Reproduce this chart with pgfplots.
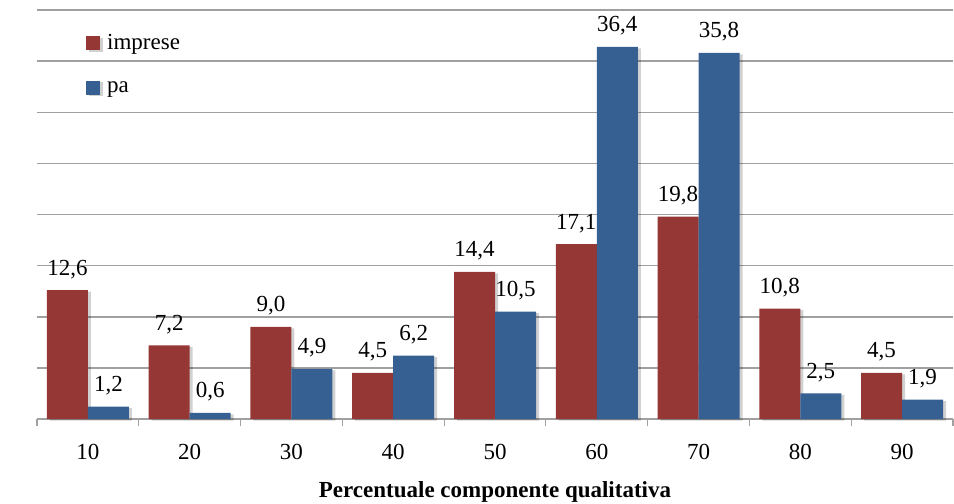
\documentclass[border=0pt]{standalone}
\usepackage{fontspec}
\setmainfont{Liberation Serif}
\usepackage{pgfplots}
\pgfplotsset{compat=1.18}
\definecolor{cred}{HTML}{953735}
\definecolor{cblue}{HTML}{366092}
\definecolor{cgrid}{HTML}{A0A0A0}
\pgfplotstableread{
x imprese pa
0 12.6 1.2
1 7.2 0.6
2 9.0 4.9
3 4.5 6.2
4 14.4 10.5
5 17.1 36.4
6 19.8 35.8
7 10.8 2.5
8 4.5 1.9
}\datatable
\begin{document}
\begin{tikzpicture}
\begin{axis}[
  scale only axis, width=916bp, height=409bp,
  xmin=-0.5, xmax=8.5, ymin=0, ymax=40,
  enlargelimits=false,
  ybar=0pt, bar width=41bp,
  axis x line*=bottom, axis y line*=left,
  y axis line style={draw=none},
  x axis line style={cgrid, line width=1.5bp},
  ytick={5,10,...,40}, yticklabels={}, ytick style={draw=none},
  ymajorgrids, grid style={cgrid, line width=1.5bp},
  xtick={0,...,8}, xticklabels={10,20,30,40,50,60,70,80,90},
  major x tick style={draw=none},
  minor xtick={-0.5,0.5,...,8.5},
  minor tick length=7bp, tick align=outside,
  minor x tick style={cgrid, line width=1.2bp},
  font=\rmfamily\fontsize{23bp}{27bp}\selectfont,
  /pgf/number format/assume math mode=true,
  xticklabel style={font=\rmfamily\fontsize{23bp}{27bp}\selectfont, yshift=-17bp},
  xlabel={\textbf{Percentuale componente qualitativa}},
  xlabel style={font=\rmfamily\fontsize{23bp}{27bp}\selectfont, yshift=-15bp},
  nodes near coords={\pgfmathprintnumber[fixed,fixed zerofill,precision=1,use comma,assume math mode=true]{\pgfplotspointmeta}},
  nodes near coords style={font=\rmfamily\fontsize{23bp}{27bp}\selectfont, anchor=south, yshift=8bp, text=black},
  point meta=explicit,
  legend image code/.code={\fill[#1] (0bp,-7bp) rectangle (14bp,7bp);},
  legend style={at={(0.0535,0.945)}, anchor=north west, draw=none, fill=none,
    font=\rmfamily\fontsize{23bp}{27bp}\selectfont, row sep=26bp, inner sep=0pt,
    legend cell align=left,
    /tikz/every odd column/.append style={column sep=5bp}},
  clip=false,
]
\addplot[fill=cred, draw=none, preaction={fill=black, fill opacity=0.18, transform canvas={xshift=3bp, yshift=-1.5bp}}] table[x=x, y=imprese, meta=imprese] {\datatable};
\addlegendentry{imprese}
\addplot[fill=cblue, draw=none, preaction={fill=black, fill opacity=0.18, transform canvas={xshift=3bp, yshift=-1.5bp}}] table[x=x, y=pa, meta=pa] {\datatable};
\addlegendentry{pa}
\coordinate (o) at (rel axis cs:0,0);
\end{axis}
\pgfresetboundingbox
\path (o) ++(-37bp,-85bp) rectangle ++(954bp,504bp);
\end{tikzpicture}
\end{document}
